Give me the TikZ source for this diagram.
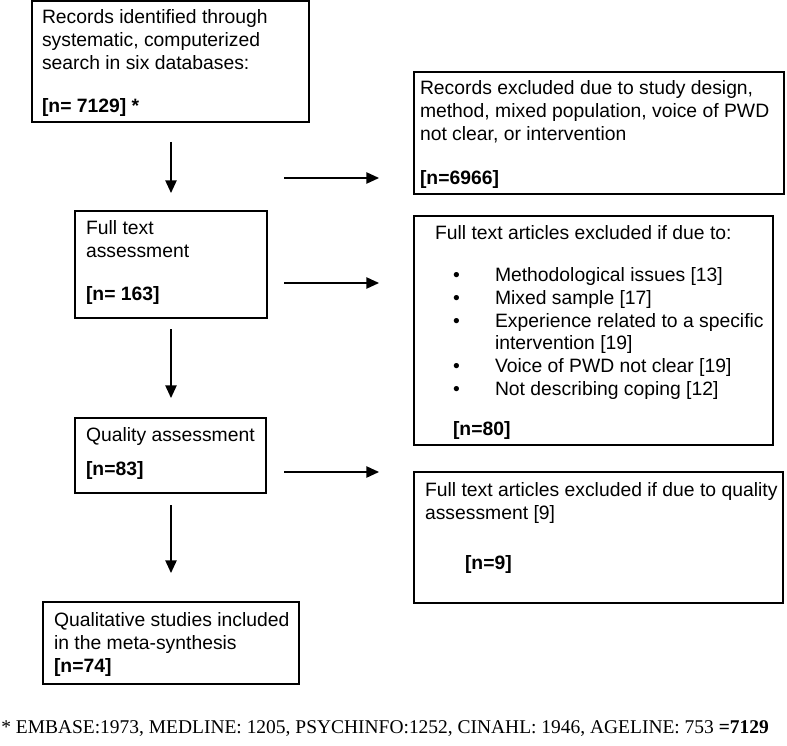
\documentclass[tikz,border=0pt]{standalone}
\usepackage{fontspec}
\setmainfont{Liberation Sans}
\newfontfamily\fnserif{Liberation Serif}
\usetikzlibrary{arrows.meta}
\tikzset{
  box/.style={draw, line width=1pt, inner sep=0pt, outer sep=0pt, anchor=north west},
  txt/.style={anchor=north west, inner sep=0pt, outer sep=0pt, align=left,
    font=\fontsize{14.5}{17}\selectfont},
  arr/.style={line width=1.1pt, -{Triangle[length=9.5pt, width=8.5pt]}},
}
\begin{document}
\begin{tikzpicture}[x=0.75pt, y=-0.75pt]
\useasboundingbox (0,0) rectangle (787,745);
% boxes
\node[box, minimum width=207.75pt, minimum height=90.75pt] (b1) at (32,1) {};
\node[box, minimum width=277.5pt, minimum height=91.5pt] (r1) at (414,72) {};
\node[box, minimum width=144pt, minimum height=80.25pt] (b2) at (75,211) {};
\node[box, minimum width=269.25pt, minimum height=171.75pt] (r2) at (414,216) {};
\node[box, minimum width=143.25pt, minimum height=56.25pt] (b3) at (75,418) {};
\node[box, minimum width=276.75pt, minimum height=98.25pt] (r3) at (414,472) {};
\node[box, minimum width=192pt, minimum height=61.5pt] (b4) at (43,602) {};
% texts
\node[txt] (t1) at (42,8) {\strut Records identified through\\ systematic, computerized\\ search in six databases:\\[15.25pt] \textbf{[n= 7129] *}};
\node[txt] (tr1) at (420,79) {\strut Records excluded due to study design,\\ method, mixed population, voice of PWD\\ not clear, or intervention\\[16pt] \textbf{[n=6966]}};
\node[txt] (t2) at (86,219) {\strut Full text\\ assessment\\[15.25pt] \textbf{[n= 163]}};
\node[txt] (tr2) at (435,224) {\strut Full text articles excluded if due to:\\[14.5pt]
 \hspace*{13.5pt}\makebox[31.5pt][l]{\textbullet}Methodological issues [13]\\
 \hspace*{13.5pt}\makebox[31.5pt][l]{\textbullet}Mixed sample [17]\\
 \hspace*{13.5pt}\makebox[31.5pt][l]{\textbullet}Experience related to a specific\\
 \hspace*{45pt}intervention [19]\\
 \hspace*{13.5pt}\makebox[31.5pt][l]{\textbullet}Voice of PWD not clear [19]\\
 \hspace*{13.5pt}\makebox[31.5pt][l]{\textbullet}Not describing coping [12]\\[13pt]
 \hspace*{13.5pt}\textbf{[n=80]}};
\node[txt] (t3) at (86,426) {\strut Quality assessment\\[8.5pt] \textbf{[n=83]}};
\node[txt] (tr3) at (425,481) {\strut Full text articles excluded if due to quality\\ assessment [9]\\[20.5pt] \hspace*{30pt}\textbf{[n=9]}};
\node[txt] (t4) at (54,611) {\strut Qualitative studies included\\ in the meta-synthesis\\ \textbf{[n=74]}};
\node[anchor=base west, inner sep=0pt, font=\fnserif\fontsize{14.6}{17}\selectfont] (fn) at (1,733)
  {* EMBASE:1973, MEDLINE: 1205, PSYCHINFO:1252, CINAHL: 1946, AGELINE: 753 \textbf{=7129}};
% arrow end points
\coordinate (h1s) at (284,178); \coordinate (h1e) at (379,178);
\coordinate (h2s) at (284,283); \coordinate (h2e) at (379,283);
\coordinate (h3s) at (284,472); \coordinate (h3e) at (379,472);
% arrows
\draw[arr, shorten <=15pt, shorten >=13.5pt] (b1.south -| b2.north) -- (b2.north);
\draw[arr, shorten <=8.25pt, shorten >=15pt] (b2.south) -- (b3.north -| b2.south);
\draw[arr, shorten <=9pt, shorten >=21.75pt] (b3.south -| b4.north) -- (b4.north);
\draw[arr] (h1s) -- (h1e);
\draw[arr] (h2s) -- (h2e);
\draw[arr] (h3s) -- (h3e);
\end{tikzpicture}
\end{document}
